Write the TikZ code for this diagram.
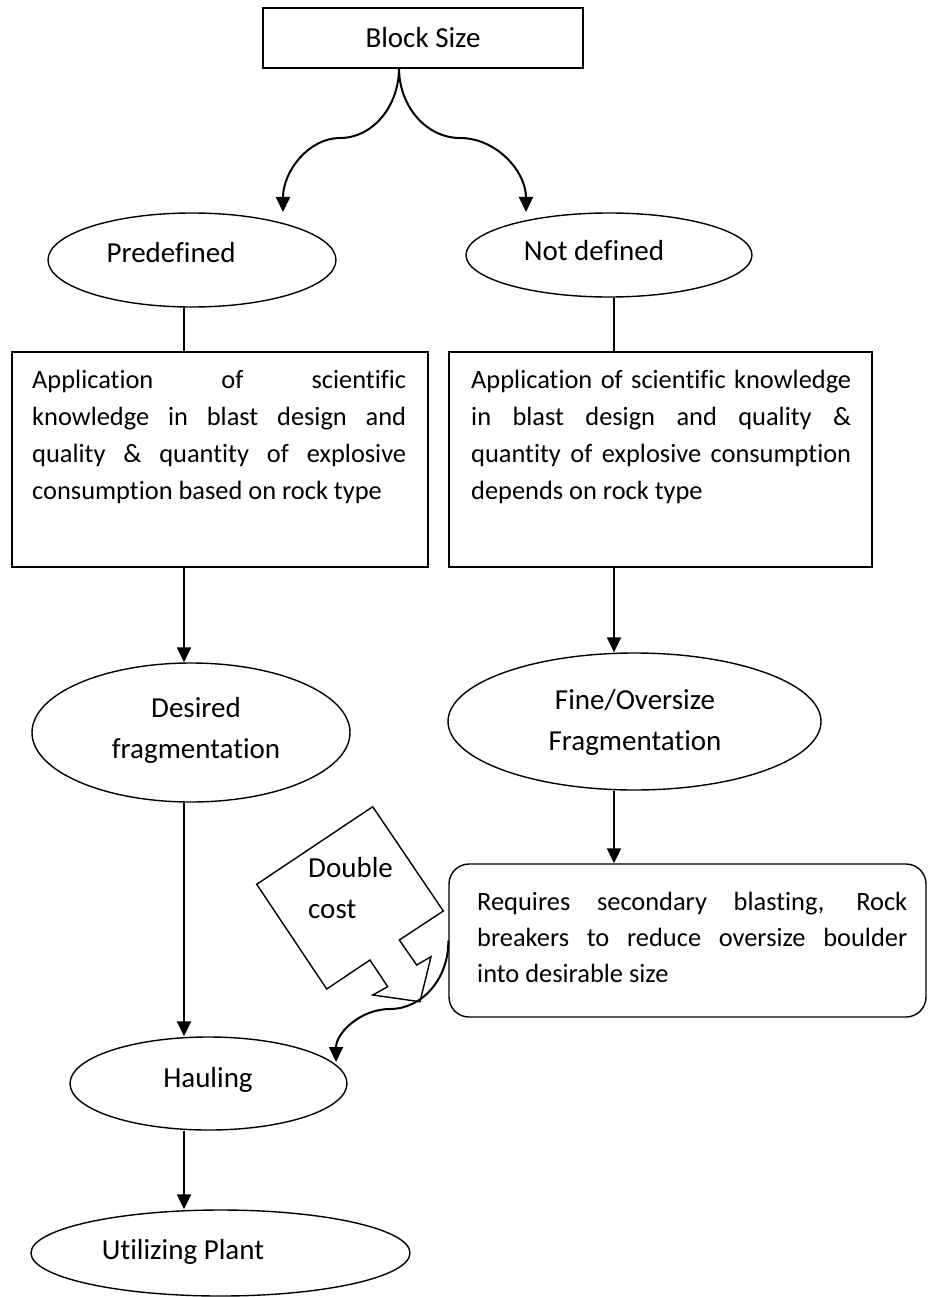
\documentclass[tikz,border=0pt]{standalone}
\usepackage{fontspec}
\setmainfont{Carlito}[Ligatures={NoCommon,NoContextual}]
\usetikzlibrary{arrows.meta,shapes.geometric}
\newcommand\jline[2]{\hbox{\makebox[#1][s]{#2}}}
\newcommand\pline[1]{\hbox{#1}}
\newcommand\ctrln[1]{\hbox to 0pt{\hss#1\hss}}
\begin{document}
\begin{tikzpicture}[x=1pt,y=-1pt,
  shp/.style={draw,line width=1.4pt},
  ell/.style={shp,ellipse,inner sep=0pt},
  lbl/.style={font=\fontsize{29}{41}\selectfont,inner sep=0pt,anchor=base},
  para/.style={font=\fontsize{26.4}{37.3}\selectfont,inner sep=0pt,anchor=base west},
  conn/.style={line width=2pt},
  arr/.style={conn,-{Triangle[length=15pt,width=14pt]}}]
\useasboundingbox (0,0) rectangle (927,1297);

% coordinates for columns and free ends
\coordinate (colL) at (184,0);
\coordinate (colR) at (614,0);
\coordinate (bs) at (399,68);
\coordinate (tipL) at (283,212);
\coordinate (tipR) at (526,212);
\coordinate (htip) at (336,1062);

% block size
\node[shp,minimum width=320pt,minimum height=60pt,inner sep=0pt,
      font=\fontsize{29}{35}\selectfont] (block) at (423,38) {Block Size};

% ellipses
\node[ell,minimum width=288pt,minimum height=94pt] (pre) at (192,260) {};
\node[ell,minimum width=286pt,minimum height=84pt] (nd) at (609,255) {};
\node[ell,minimum width=318pt,minimum height=139pt] (des) at (191,732.5) {};
\node[ell,minimum width=373pt,minimum height=137pt] (fine) at (634.5,721.5) {};
\node[ell,minimum width=277pt,minimum height=93pt] (haul) at (208.5,1083.5) {};
\node[ell,minimum width=379pt,minimum height=86pt] (util) at (220.5,1253) {};

\node[lbl] (pret) at (171,262) {Predefined};
\node[lbl] (ndt) at (594,260) {Not defined};
\node[lbl] (dest) at (196,717) {\vtop{\ctrln{Desired}\ctrln{fragmentation}}};
\node[lbl] (finet) at (635,709) {\vtop{\ctrln{Fine/Oversize}\ctrln{Fragmentation}}};
\node[lbl] (hault) at (208,1087) {Hauling};
\node[lbl] (utilt) at (183,1259) {Utilizing Plant};

% boxes
\node[shp,minimum width=416pt,minimum height=215pt,inner sep=0pt] (lbox) at (220,459.5) {};
\node[shp,minimum width=423pt,minimum height=215pt,inner sep=0pt] (rbox) at (660.5,459.5) {};
\node[shp,rounded corners=20pt,minimum width=477pt,minimum height=153pt,inner sep=0pt] (rr) at (687.5,940.5) {};

\node[para] (lboxt) at (32,388) {\vtop{%
  \jline{374pt}{Application of scientific}%
  \jline{374pt}{knowledge in blast design and}%
  \jline{374pt}{quality \& quantity of explosive}%
  \pline{consumption based on rock type}}};
\node[para] (rboxt) at (471,388) {\vtop{%
  \jline{380pt}{Application of scientific knowledge}%
  \jline{380pt}{in blast design and quality \&}%
  \jline{380pt}{quantity of explosive consumption}%
  \pline{depends on rock type}}};
\node[para] (rrt) at (477,910) {\vtop{\baselineskip=36pt
  \jline{430pt}{Requires secondary blasting, Rock}%
  \jline{430pt}{breakers to reduce oversize boulder}%
  \pline{into desirable size}}};

% double cost callout
\draw[shp] (372.7,806.7) -- (443.3,911) -- (399.3,940) -- (416.7,965) -- (431,956.7)
  -- (420,1001.7) -- (372.7,995) -- (387.7,986.7) -- (370,960) -- (326.7,989)
  -- (256.7,884.3) -- cycle;
\node[lbl,anchor=base west] (dct) at (308,877) {\vtop{\pline{Double}\pline{cost}}};

% connectors
\draw[arr] (bs) .. controls (399,106.5) and (372.5,138) .. (340,138)
  .. controls (308.6,138) and (283,171.3) .. (tipL);
\draw[arr] (bs) .. controls (399,106.5) and (426.5,138) .. (460,138)
  .. controls (496.3,138) and (526,171.3) .. (tipR);
\draw[conn] (pre.south -| colL) -- (lbox.north -| colL);
\draw[conn] (nd.south -| colR) -- (rbox.north -| colR);
\draw[arr] (lbox.south -| colL) -- (des.north -| colL);
\draw[arr] (rbox.south -| colR) -- (fine.north -| colR);
\draw[arr] (fine.south -| colR) -- (rr.north -| colR);
\draw[arr] (des.south -| colL) -- (haul.north -| colL);
\draw[arr] (haul.south -| colL) -- (util.north -| colL);
\draw[arr] (rr.west) .. controls (449,978) and (422.5,1009) .. (390,1009)
  .. controls (360.3,1009) and (336,1033) .. (htip);
\end{tikzpicture}
\end{document}
